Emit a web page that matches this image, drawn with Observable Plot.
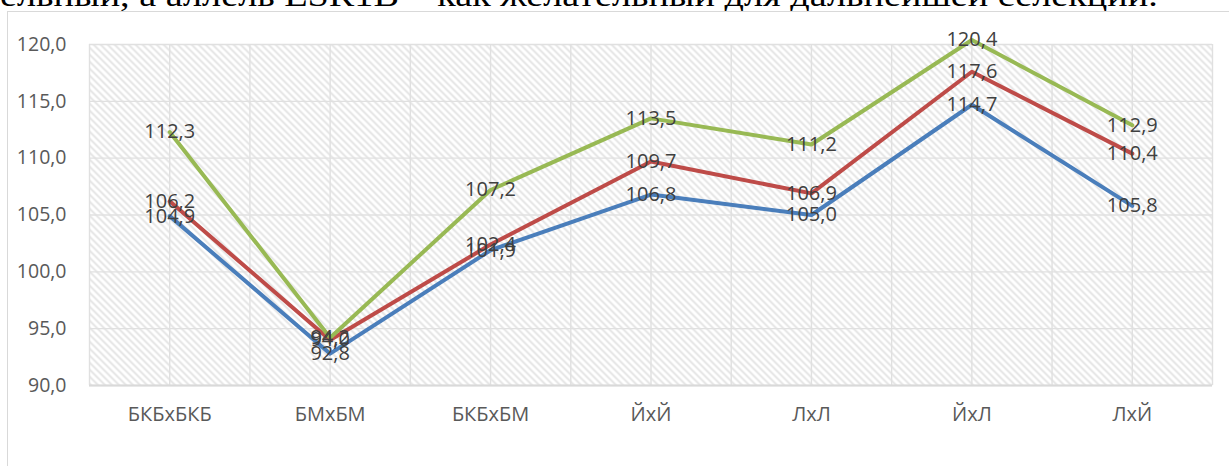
<!DOCTYPE html>
<html>
<head>
<meta charset="utf-8">
<script src="https://cdn.jsdelivr.net/npm/d3@7"></script>
<script src="https://cdn.jsdelivr.net/npm/@observablehq/plot@0.6"></script>
<style>
  html, body { margin: 0; padding: 0; background: #fff; overflow: hidden; }
  #wrap { position: relative; width: 1229px; height: 466px; overflow: hidden; }
  #head { position: absolute; left: 0; top: -22px; white-space: nowrap; font-family: "Liberation Serif", "DejaVu Serif", serif; font-size: 31px; color: #000; transform-origin: 0 0; }
  #frame { position: absolute; left: 7px; top: 11px; width: 1300px; height: 500px; border: 1.5px solid #d9d9d9; box-sizing: border-box; }
  #chart { position: absolute; left: 0; top: 0; }
</style>
</head>
<body>
<div id="wrap">
  <div id="head">ельный, а аллель ESR1B – как желательный для дальнейшей селекции.</div>
  <div id="frame"></div>
  <div id="chart"></div>
</div>
<script>
const categories = ["БКБхБКБ", "БМхБМ", "БКБхБМ", "ЙхЙ", "ЛхЛ", "ЙхЛ", "ЛхЙ"];
const blueValues  = [104.9, 92.8, 101.9, 106.8, 105.0, 114.7, 105.8];
const redValues   = [106.2, 94.0, 102.4, 109.7, 106.9, 117.6, 110.4];
const greenValues = [112.3, 94.2, 107.2, 113.5, 111.2, 120.4, 112.9];
const yTicks = [90, 95, 100, 105, 110, 115, 120];

const seriesList = [
  {name: "blue", color: "#4A7EBB", values: blueValues},
  {name: "red", color: "#BE4B48", values: redValues},
  {name: "green", color: "#98B954", values: greenValues}
];
const rows = seriesList.flatMap(s => s.values.map((v, i) => ({series: s.name, color: s.color, i, cat: categories[i], v})));
const fmt = v => v.toFixed(1).replace(".", ",");

const defs = () => {
  const d = d3.create("svg:defs");
  const p = d.append("pattern").attr("id", "hatch").attr("patternUnits", "userSpaceOnUse")
    .attr("width", 7).attr("height", 7);
  p.append("rect").attr("width", 7).attr("height", 7).attr("fill", "#ffffff");
  p.append("path").attr("d", "M-1,-1 L8,8 M-8,-1 L1,8 M6,-1 L15,8")
    .attr("stroke", "#e2e2e2").attr("stroke-width", 1.8);
  return d.node();
};

const gridXs = d3.range(0, 15).map(k => k * 0.5 - 0.5);

const chart = Plot.plot({
  width: 1229,
  height: 466,
  marginTop: 44,
  marginBottom: 81,
  marginLeft: 89,
  marginRight: 17,
  style: {fontFamily: "'Open Sans', sans-serif", background: "transparent"},
  x: {domain: [-0.5, 6.5], axis: null},
  y: {domain: [90, 120], axis: null},
  marks: [
    defs,
    Plot.frame({fill: "url(#hatch)", stroke: null}),
    Plot.ruleY(yTicks, {stroke: "#e0e0e0", strokeWidth: 1.4}),
    Plot.ruleX(gridXs, {stroke: "#e0e0e0", strokeWidth: 1.4}),
    Plot.ruleY([90], {stroke: "#d9d9d9", strokeWidth: 2}),
    Plot.axisY(yTicks, {tickSize: 0, tickPadding: 23, tickFormat: fmt, fontSize: 19.5, fill: "#595959", label: null}),
    Plot.axisX(d3.range(categories.length), {tickSize: 0, tickPadding: 21, tickFormat: i => categories[i], fontSize: 20, fill: "#595959", label: null}),
    ...seriesList.map(s => Plot.line(rows.filter(r => r.series === s.name), {x: "i", y: "v", stroke: s.color, strokeWidth: 4, strokeLinejoin: "round", strokeLinecap: "round"})),
    ...seriesList.map(s => Plot.text(rows.filter(r => r.series === s.name), {x: "i", y: "v", text: d => fmt(d.v), fontSize: 20, fill: "#404040"}))
  ]
});
document.getElementById("chart").appendChild(chart);

const head = document.getElementById("head");
const w = head.scrollWidth;
head.style.transform = `scaleX(${1158 / w})`;
</script>
</body>
</html>
